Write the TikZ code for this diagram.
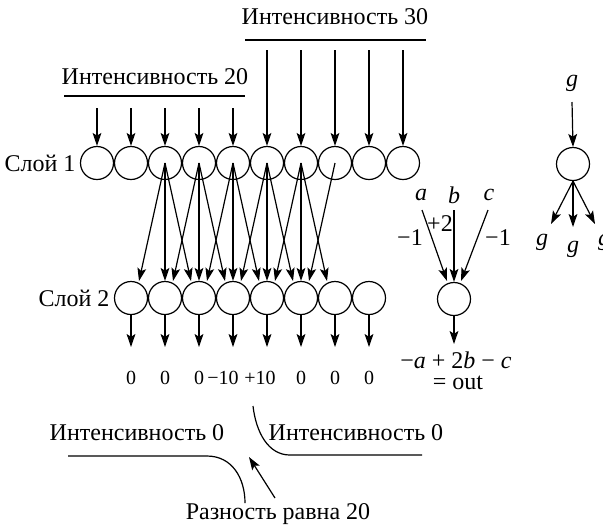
\documentclass[tikz,border=0pt]{standalone}
\usepackage{fontspec}
\setmainfont{Liberation Serif}
\usetikzlibrary{arrows.meta,calc}
\begin{document}
\begin{tikzpicture}[x=0.5pt,y=-0.5pt,
  line width=0.6pt,
  neuron/.style={circle,draw,line width=0.6pt,minimum size=16.5pt,inner sep=0pt},
  arr/.style={-{Stealth[length=6.5pt,width=4.4pt,inset=1.4pt]}},
  lbl/.style={font=\fontsize{12}{14}\selectfont,inner sep=0pt},
  small/.style={font=\fontsize{10}{12}\selectfont,inner sep=0pt}]
\useasboundingbox (0,0) rectangle (603,527);

% layer 1 and layer 2
\foreach \i in {0,...,9} \node[neuron] (l1-\i) at (97+34*\i,163) {};
\foreach \k in {0,...,7} \node[neuron] (l2-\k) at (131+34*\k,298) {};

\node[lbl,anchor=east] (s1) at (76,163) {Слой 1};
\node[lbl,anchor=east] (s2) at (110,298) {Слой 2};

% intensity labels
\node[lbl] (i20) at (155,77) {Интенсивность 20};
\node[lbl] (i30) at (335,17) {Интенсивность 30};
\draw (64,96) -- (245,96);
\draw (245,40) -- (426,40);
\foreach \i in {0,...,4} {
  \coordinate (t\i) at (97+34*\i,108);
  \draw[arr] (t\i) -- (l1-\i.north);
}
\foreach \i in {5,...,9} {
  \coordinate (t\i) at (97+34*\i,50);
  \draw[arr] (t\i) -- (l1-\i.north);
}

% connections layer1 -> layer2
\foreach \i in {2,...,6} {
  \pgfmathtruncatemacro\kl{\i-2}
  \pgfmathtruncatemacro\kc{\i-1}
  \pgfmathtruncatemacro\kr{\i}
  \draw[arr] (l1-\i.center) -- ($(l2-\kl.center)+(8,-17)$);
  \draw[arr] (l1-\i.center) -- (l2-\kc.north);
  \draw[arr] (l1-\i.center) -- ($(l2-\kr.center)+(-8,-17)$);
}
\draw[arr] (l1-7.center) -- ($(l2-5.center)+(8,-17)$);

% outputs layer 2
\foreach \k in {0,...,7} {
  \coordinate (o\k) at (131+34*\k,347);
  \draw[arr] (l2-\k.south) -- (o\k);
}
\node[small] (v0) at (131,378) {0};
\node[small] (v1) at (165,378) {0};
\node[small] (v2) at (199,378) {0};
\node[small] (v3) at (223,378) {−10};
\node[small] (v4) at (260,378) {+10};
\node[small] (v5) at (301,378) {0};
\node[small] (v6) at (335,378) {0};
\node[small] (v7) at (369,378) {0};

% a b c unit
\node[neuron] (u) at (454,299) {};
\node[lbl] (la) at (421,195) {\textit{a}};
\node[lbl] (lb) at (454,195) {\textit{b}};
\node[lbl] (lc) at (489,195) {\textit{c}};
\draw[arr] (422,210) -- ($(u.center)+(-7,-18)$);
\draw[arr] (454,210) -- (u.north);
\draw[arr] (488,210) -- ($(u.center)+(7,-18)$);
\node[lbl] (w1) at (410,238) {−1};
\node[lbl] (w2) at (440,224) {+2};
\node[lbl] (w3) at (498,238) {−1};
\coordinate (uo) at (454,344);
\draw[arr] (u.south) -- (uo);
\node[lbl] (f1) at (456,360) {−\textit{a} + 2\textit{b} − \textit{c}};
\node[lbl] (f2) at (458,383) {= out};

% g unit
\node[neuron] (gn) at (573,164) {};
\node[lbl] (g0) at (572,83) {\textit{g}};
\draw[arr] (572,102) -- (gn.north);
\coordinate (gl) at (551,224);
\coordinate (gm) at (573,227);
\coordinate (gr) at (595,224);
\draw[arr] (gn.south) -- (gl);
\draw[arr] (gn.south) -- (gm);
\draw[arr] (gn.south) -- (gr);
\node[lbl] (g1) at (542,242) {\textit{g}};
\node[lbl] (g2) at (573,249) {\textit{g}};
\node[lbl] (g3) at (604,242) {\textit{g}};

% bottom
\node[lbl] (b0l) at (137,433) {Интенсивность 0};
\node[lbl] (b0r) at (356,433) {Интенсивность 0};
\draw (68,456) -- (207,456) .. controls (232,456) and (245,478) .. (245,503);
\draw (253,406) .. controls (256,432) and (268,455) .. (290,455) -- (422,455);
\node[lbl] (diff) at (278,514) {Разность равна 20};
\coordinate (dt) at (275,498);
\coordinate (dh) at (249,457);
\draw[arr] (dt) -- (dh);
\end{tikzpicture}
\end{document}
